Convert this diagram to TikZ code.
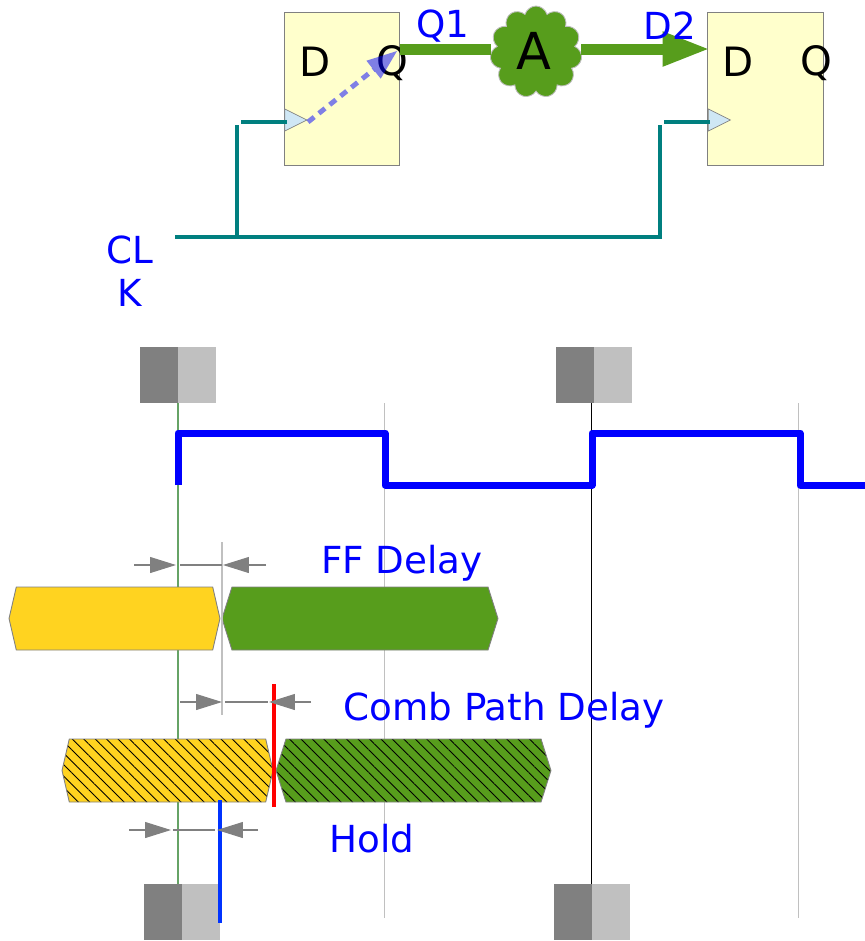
\documentclass[tikz,border=0pt]{standalone}
\usepackage{fontspec}
\setmainfont{DejaVu Sans}
\usetikzlibrary{arrows.meta,patterns.meta,shapes.geometric,shapes.symbols}
\definecolor{ffyellow}{HTML}{FFD320}
\definecolor{ffgreen}{HTML}{579D1C}
\definecolor{clkteal}{HTML}{007F7F}
\definecolor{flopfill}{HTML}{FFFFCC}
\definecolor{clkfill}{HTML}{CFE7F5}
\definecolor{edgelight}{HTML}{C0C0C0}

\begin{document}
\begin{tikzpicture}[x=0.02cm, y=-0.02cm,
	flop/.style={rectangle, draw=gray, line width=0.5pt, fill=flopfill, minimum width=2.31cm, minimum height=3.06cm},
	pin/.style={font=\fontsize{23}{27}\selectfont, text=black, inner sep=0pt},
	clkin/.style={isosceles triangle, isosceles triangle stretches, draw=gray, line width=0.4pt, fill=clkfill, minimum width=0.44cm, minimum height=0.44cm, inner sep=0pt, anchor=lower side},
	lab/.style={font=\fontsize{21.2}{24.4}\selectfont, text=blue, inner sep=0pt},
	wire/.style={draw=clkteal, line width=2pt},
	bus/.style={draw=ffgreen, line width=0.22cm},
	dark/.style={rectangle, fill=gray, minimum width=0.76cm, minimum height=1.12cm, inner sep=0pt},
	light/.style={rectangle, fill=edgelight, minimum width=0.76cm, minimum height=1.12cm, inner sep=0pt},
	valid/.style={signal, signal to=west and east, signal pointer angle=154, draw=gray, line width=0.5pt, minimum height=1.26cm, inner sep=0pt},
	hatched/.style={pattern={Lines[angle=-45, distance=4.6pt, line width=0.5pt]}, pattern color=black},
	dim/.style={draw=gray, line width=0.6pt},
	dimtip/.style={dim, -{Triangle[length=0.52cm, width=0.32cm]}},
	tick/.style={draw=edgelight, line width=0.6pt}
]

\useasboundingbox (0,0) rectangle (865,941);

\node [dark] (EdgeA) at (159,375) {};
\node [light] (EdgeAb) at (197,375) {};
\node [dark] (EdgeB) at (575,375) {};
\node [light] (EdgeBb) at (613,375) {};
\node [dark] (SampA) at (163,912) {};
\node [light] (SampAb) at (201,912) {};
\node [dark] (SampB) at (573,912) {};
\node [light] (SampBb) at (611,912) {};

\coordinate (TickC) at (384.5,403);
\coordinate (TickCe) at (384.5,918);
\coordinate (TickD) at (798.5,403);
\coordinate (TickDe) at (798.5,918);
\draw [draw=green!40!black!60, line width=0.6pt] (178,403) -- (178,884);
\draw [tick] (TickC) -- (TickCe);
\draw [draw=black, line width=0.5pt] (591,403) -- (591,884);
\draw [tick] (TickD) -- (TickDe);

\draw [draw=blue, line width=0.14cm, line join=round] (178,485) -- (178,433) -- (385,433) -- (385,485) -- (592,485) -- (592,433) -- (800,433) -- (800,485) -- (865,485);

\node [flop] (FlopA) at (342,88.5) {};
\node [flop] (FlopB) at (765.5,88.5) {};
\node [pin] (DA) at (315,62) {D};
\node [pin] (QA) at (392,63) {Q};
\node [pin] (DB) at (738,62) {D};
\node [pin] (QB) at (816,63) {Q};
\node [clkin] (ClkA) at (284.5,120) {};
\node [clkin] (ClkB) at (708,120) {};

\coordinate (QOut) at (400,49);
\coordinate (DIn) at (710,49);
\node [cloud, cloud puffs=11, cloud puff arc=150, aspect=1, draw=lightgray, line width=0.5pt, fill=ffgreen, minimum width=1.84cm, minimum height=1.84cm, inner sep=0pt] (Logic) at (536,52) {};
\node [font=\fontsize{29}{34}\selectfont, inner sep=0pt] (LogicLab) at (534,51) {A};
\draw [bus] (QOut) -- (Logic.west |- QOut);
\draw [bus, -{Triangle[length=0.95cm, width=0.64cm]}] (Logic.east |- DIn) -- (DIn);

\node [lab] (QOne) at (443,26) {Q1};
\node [lab] (DTwo) at (670,26) {D2};
\node [lab, align=center] (Clk) at (130,271) {CL\\K};

\draw [draw=blue, opacity=0.5, line width=2.8pt, dash pattern=on 4.5pt off 3.4pt, -{Triangle[length=0.6cm, width=0.46cm, line width=0pt]}] (308,122) -- (397,51);

\coordinate (ClkStart) at (175,237);
\coordinate (ClkJoinA) at (237,237);
\coordinate (ClkJoinB) at (660,237);
\coordinate (ClkEndA) at (237,125);
\coordinate (ClkEndB) at (660,125);
\coordinate (ClkPinA) at (287,122);
\coordinate (ClkPinB) at (710,122);
\draw [wire] (ClkStart) -- (ClkJoinB) -- (ClkEndB);
\draw [wire] (ClkJoinA) -- (ClkEndA);
\draw [wire] (241,122) -- (ClkPinA);
\draw [wire] (664,122) -- (ClkPinB);

\node [valid, fill=ffyellow, minimum width=4.22cm] (OldA) at (114.5,618.5) {};
\node [valid, signal pointer angle=145, fill=ffgreen, minimum width=5.52cm] (NewA) at (360,618.5) {};
\node [valid, preaction={fill=ffyellow}, hatched, minimum width=4.22cm] (OldB) at (167.5,770.5) {};
\node [valid, signal pointer angle=145, preaction={fill=ffgreen}, hatched, minimum width=5.5cm] (NewB) at (413.5,770.5) {};

\node [lab] (FFLab) at (402,563) {FF Delay};
\node [lab] (CombLab) at (504,710) {Comb Path Delay};
\node [lab] (HoldLab) at (372,839) {Hold};

\coordinate (FFTop) at (222,542);
\coordinate (FFBot) at (222,715);
\draw [tick] (FFTop) -- (FFBot);
\draw [draw=red, line width=0.08cm] (274,684) -- (274,807);
\draw [draw=blue!80!cyan, line width=0.08cm] (220,800) -- (220,923);

\draw [dimtip] (134,565) -- (176,565);
\draw [dim] (180,565) -- (222,565);
\draw [dimtip] (266,565) -- (223,565);
\draw [dimtip] (180,702) -- (222,702);
\draw [dim] (225,702) -- (268,702);
\draw [dimtip] (311,702) -- (269,702);
\draw [dimtip] (129,830) -- (171,830);
\draw [dim] (173,830) -- (215,830);
\draw [dimtip] (258,830) -- (217,830);

\end{tikzpicture}
\end{document}
